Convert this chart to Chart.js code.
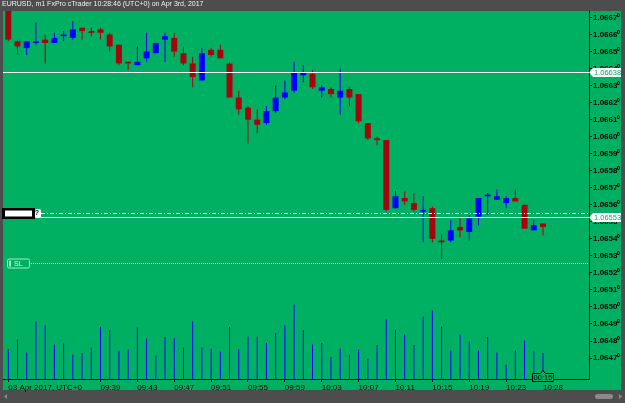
<!DOCTYPE html>
<html lang="en">
<head>
    <meta charset="UTF-8">
    <title>EURUSD, m1</title>
    <script src="https://cdn.jsdelivr.net/npm/chart.js"></script>
    <style>
        html, body { margin: 0; padding: 0; background: #4d4d4d; }
        #wrap { position: relative; width: 625px; height: 403px; }
        #chart { position: absolute; left: 0; top: 0; }
        #title { position: absolute; left: 2px; top: 0; height: 11px; line-height: 11px;
                 font: 7px 'Liberation Sans', Arial, sans-serif; color: #f0f0f0; white-space: nowrap; }
    </style>
</head>
<body>
<div id="wrap">
    <canvas id="chart" width="625" height="403"></canvas>
    <div id="title">EURUSD, m1 FxPro cTrader 10:28:46 (UTC+0) on Apr 3rd, 2017</div>
</div>
<script>
    // one minute candles, 09:29 .. 10:28
    const opens = [1.06677, 1.06656, 1.06652, 1.06655, 1.06657, 1.06655, 1.06659, 1.06658, 1.06664, 1.06662,
                   1.06663, 1.06660, 1.06654, 1.06644, 1.06642, 1.06646, 1.06649, 1.06657, 1.06658, 1.06649,
                   1.06643, 1.06633, 1.06651, 1.06651, 1.06643, 1.06623, 1.06617, 1.06610, 1.06608, 1.06615,
                   1.06623, 1.06627, 1.06636, 1.06637, 1.06627, 1.06628, 1.06623, 1.06628, 1.06625, 1.06608,
                   1.06599, 1.06598, 1.06558, 1.06564, 1.06561, 1.06556, 1.06558, 1.06539, 1.06539, 1.06547,
                   1.06544, 1.06553, 1.06565, 1.06563, 1.06561, 1.06564, 1.06560, 1.06545, 1.06549];
    const highs = [1.06680, 1.06657, 1.06656, 1.06667, 1.06660, 1.06661, 1.06662, 1.06668, 1.06664, 1.06664,
                   1.06664, 1.06661, 1.06654, 1.06644, 1.06653, 1.06661, 1.06655, 1.06661, 1.06661, 1.06653,
                   1.06647, 1.06652, 1.06652, 1.06654, 1.06644, 1.06627, 1.06618, 1.06616, 1.06618, 1.06630,
                   1.06633, 1.06644, 1.06642, 1.06639, 1.06630, 1.06629, 1.06640, 1.06629, 1.06625, 1.06608,
                   1.06600, 1.06598, 1.06568, 1.06568, 1.06567, 1.06565, 1.06559, 1.06543, 1.06551, 1.06553,
                   1.06554, 1.06564, 1.06567, 1.06569, 1.06565, 1.06569, 1.06560, 1.06551, 1.06549];
    const lows = [1.06656, 1.06648, 1.06648, 1.06654, 1.06643, 1.06655, 1.06656, 1.06657, 1.06657, 1.06659,
                  1.06657, 1.06650, 1.06642, 1.06639, 1.06642, 1.06644, 1.06649, 1.06644, 1.06647, 1.06642,
                  1.06629, 1.06633, 1.06647, 1.06646, 1.06623, 1.06613, 1.06596, 1.06602, 1.06607, 1.06614,
                  1.06622, 1.06626, 1.06632, 1.06628, 1.06623, 1.06623, 1.06613, 1.06618, 1.06608, 1.06598,
                  1.06595, 1.06556, 1.06558, 1.06560, 1.06556, 1.06538, 1.06538, 1.06528, 1.06538, 1.06541,
                  1.06539, 1.06548, 1.06554, 1.06563, 1.06558, 1.06562, 1.06546, 1.06545, 1.06542];
    const closes = [1.06657, 1.06653, 1.06656, 1.06656, 1.06655, 1.06658, 1.06660, 1.06663, 1.06662, 1.06661,
                    1.06661, 1.06653, 1.06643, 1.06643, 1.06644, 1.06650, 1.06655, 1.06659, 1.06650, 1.06643,
                    1.06635, 1.06649, 1.06648, 1.06646, 1.06623, 1.06616, 1.06610, 1.06607, 1.06615, 1.06623,
                    1.06626, 1.06638, 1.06638, 1.06629, 1.06629, 1.06625, 1.06627, 1.06623, 1.06609, 1.06599,
                    1.06598, 1.06557, 1.06565, 1.06562, 1.06557, 1.06557, 1.06540, 1.06538, 1.06545, 1.06545,
                    1.06552, 1.06564, 1.06566, 1.06565, 1.06564, 1.06562, 1.06546, 1.06548, 1.06547];
    const volumes = [60, 79, 53, 115, 107, 69, 71, 49, 52, 63,
                     104, 98, 57, 59, 103, 81, 47, 84, 82, 63,
                     115, 63, 61, 55, 104, 59, 85, 85, 72, 92,
                     107, 149, 98, 69, 72, 44, 61, 49, 59, 41,
                     68, 119, 99, 89, 68, 125, 137, 105, 57, 89,
                     75, 57, 84, 53, 29, 57, 77, 55, 52];

    const timeTicks = [0, 10, 14, 18, 22, 26, 30, 34, 38, 42, 46, 50, 54, 58];
    const timeTickLabels = ['03 Apr 2017, UTC+0', '09:39', '09:43', '09:47', '09:51', '09:55', '09:59',
                            '10:03', '10:07', '10:11', '10:15', '10:19', '10:23', '10:28'];
    const priceTicks = [1.0647, 1.0648, 1.0649, 1.0650, 1.0651, 1.0652, 1.0653, 1.0654, 1.0655, 1.0656, 1.0657,
                        1.0658, 1.0659, 1.0660, 1.0661, 1.0662, 1.0663, 1.0664, 1.0665, 1.0666, 1.0667];

    const markerPrice = 1.06638;
    const bidPrice = 1.06553;
    const entryPrice = 1.06555;
    const stopPrice = 1.06526;
    const countdown = '00:15';

    const GREEN = '#00b062';
    const RED = '#a6050e';
    const BLUE = '#0000ff';
    const INK = '#000000';

    const candleColor = i => closes[i] >= opens[i] ? BLUE : RED;
    const superDigits = ['⁰', '¹', '²', '³', '⁴', '⁵', '⁶', '⁷', '⁸', '⁹'];
    function fmtPrice(v) {
        const s = v.toFixed(5);
        return s.slice(0, -1) + superDigits[+s.slice(-1)];
    }

    const decor = {
        id: 'decor',
        beforeDraw(chart) {
            const c = chart.ctx;
            c.save();
            c.fillStyle = '#4d4d4d';
            c.fillRect(0, 0, chart.width, chart.height);
            c.fillStyle = GREEN;
            c.fillRect(3, 11, 618, 379);
            // scrollbar bits
            c.fillStyle = '#8a8a8a';
            c.beginPath();
            c.roundRect(595, 394, 18, 5, 2.5);
            c.fill();
            c.beginPath();
            c.moveTo(619, 394); c.lineTo(622, 396.5); c.lineTo(619, 399); c.fill();
            c.beginPath();
            c.moveTo(7, 394); c.lineTo(4, 396.5); c.lineTo(7, 399); c.fill();
            c.restore();
        },
        afterDatasetsDraw(chart) {
            const c = chart.ctx;
            const y = chart.scales.y;
            const {left, right} = chart.chartArea;
            c.save();
            c.strokeStyle = '#ffffff';
            c.lineWidth = 1;

            let py = Math.round(y.getPixelForValue(markerPrice)) + 0.5;
            c.beginPath(); c.moveTo(left, py); c.lineTo(right, py); c.stroke();

            py = Math.round(y.getPixelForValue(bidPrice)) + 0.5;
            c.beginPath(); c.moveTo(41, py); c.lineTo(right, py); c.stroke();

            py = Math.round(y.getPixelForValue(entryPrice)) + 0.5;
            c.setLineDash([4, 2, 1, 2]);
            c.beginPath(); c.moveTo(41, py); c.lineTo(right, py); c.stroke();

            // position marker on the left
            c.setLineDash([]);
            c.fillStyle = '#000000';
            c.fillRect(2, py - 5.5, 33, 11);
            c.fillStyle = '#ffffff';
            c.fillRect(5, py - 3, 27, 6);
            c.beginPath();
            c.roundRect(35, py - 4.5, 6, 9, 1.5);
            c.fill();
            c.fillStyle = '#000000';
            c.font = 'bold 7px "Liberation Sans", sans-serif';
            c.textAlign = 'center';
            c.textBaseline = 'middle';
            c.fillText('?', 37, py);

            // stop loss
            py = Math.round(y.getPixelForValue(stopPrice)) + 0.5;
            c.strokeStyle = 'rgba(230,255,240,0.85)';
            c.setLineDash([1, 1]);
            c.beginPath(); c.moveTo(31, py); c.lineTo(right, py); c.stroke();
            c.setLineDash([]);
            c.strokeStyle = '#a8e8c4';
            c.beginPath();
            c.roundRect(7.5, py - 4.5, 22, 9, 1.5);
            c.stroke();
            c.fillStyle = '#a8e8c4';
            c.fillRect(9, py - 3, 2, 6);
            c.font = '7px "Liberation Sans", sans-serif';
            c.textAlign = 'left';
            c.fillStyle = '#d8f5e4';
            c.fillText('SL', 14, py + 0.5);
            c.restore();
        },
        afterDraw(chart) {
            const c = chart.ctx;
            const y = chart.scales.y;
            const x = chart.scales.x;
            const {right} = chart.chartArea;
            c.save();
            [markerPrice, bidPrice].forEach(p => {
                const py = Math.round(y.getPixelForValue(p)) + 0.5;
                c.fillStyle = '#ffffff';
                c.beginPath();
                c.moveTo(right, py);
                c.lineTo(right + 4, py - 4.5);
                c.lineTo(621, py - 4.5);
                c.lineTo(621, py + 4.5);
                c.lineTo(right + 4, py + 4.5);
                c.closePath();
                c.fill();
                c.fillStyle = GREEN;
                c.font = '7.5px "Liberation Sans", sans-serif';
                c.textAlign = 'left';
                c.textBaseline = 'middle';
                c.fillText(p.toFixed(5), right + 5, py + 0.5);
            });

            // countdown box of the running candle
            const cx = x.getPixelForValue(opens.length - 1);
            const top = 373.5, bot = 381.5;
            c.fillStyle = GREEN;
            c.strokeStyle = '#000000';
            c.lineWidth = 1;
            c.beginPath();
            c.moveTo(cx - 10.5, top);
            c.lineTo(cx - 2.5, top);
            c.lineTo(cx, top - 3);
            c.lineTo(cx + 2.5, top);
            c.lineTo(cx + 10.5, top);
            c.lineTo(cx + 10.5, bot);
            c.lineTo(cx - 10.5, bot);
            c.closePath();
            c.fill();
            c.stroke();
            c.fillStyle = '#000000';
            c.font = '7.5px "Liberation Sans", sans-serif';
            c.textAlign = 'center';
            c.textBaseline = 'middle';
            c.fillText(countdown, cx, (top + bot) / 2 + 0.5);
            c.restore();
        }
    };

    const idx = opens.map((_, i) => i);
    const tickFont = { family: '"Liberation Sans", Arial, sans-serif', size: 8, weight: 'bold' };

    new Chart(document.getElementById('chart'), {
        type: 'bar',
        data: {
            datasets: [
                {
                    data: idx.map(i => ({ x: i, y: volumes[i] })),
                    yAxisID: 'vol',
                    backgroundColor: BLUE,
                    grouped: false,
                    maxBarThickness: 1,
                    borderWidth: 0,
                    order: 3
                },
                {
                    data: idx.map(i => ({ x: i, y: [lows[i], highs[i]] })),
                    yAxisID: 'y',
                    backgroundColor: idx.map(candleColor),
                    grouped: false,
                    maxBarThickness: 1,
                    borderWidth: 0,
                    order: 2
                },
                {
                    data: idx.map(i => ({ x: i, y: [opens[i], closes[i]] })),
                    yAxisID: 'y',
                    backgroundColor: idx.map(candleColor),
                    grouped: false,
                    maxBarThickness: 6,
                    minBarLength: 1,
                    borderWidth: 0,
                    order: 1
                }
            ]
        },
        options: {
            responsive: false,
            animation: false,
            devicePixelRatio: 1,
            layout: { padding: { top: 11, left: 3, right: 0, bottom: 0 } },
            plugins: { legend: { display: false }, tooltip: { enabled: false } },
            scales: {
                x: {
                    type: 'linear',
                    min: -0.575,
                    max: 62.99,
                    offset: false,
                    afterBuildTicks: s => { s.ticks = timeTicks.map(v => ({ value: v })); },
                    afterFit: s => { s.height = 24; },
                    ticks: {
                        callback: (v, i) => timeTickLabels[i],
                        align: 'start',
                        autoSkip: false,
                        maxRotation: 0,
                        color: INK,
                        font: { family: '"Liberation Sans", Arial, sans-serif', size: 8 },
                        padding: 1
                    },
                    grid: { drawOnChartArea: false, offset: false, tickLength: 3, color: INK },
                    border: { color: INK }
                },
                y: {
                    position: 'right',
                    min: 1.064577,
                    max: 1.066738,
                    beginAtZero: false,
                    afterBuildTicks: s => { s.ticks = priceTicks.map(v => ({ value: v })); },
                    afterFit: s => { s.width = 36; },
                    ticks: {
                        callback: v => fmtPrice(v),
                        autoSkip: false,
                        color: INK,
                        font: tickFont,
                        padding: 1
                    },
                    grid: { drawOnChartArea: false, tickLength: 3, color: INK },
                    border: { color: INK }
                },
                vol: {
                    display: false,
                    min: 0,
                    max: 736
                }
            }
        },
        plugins: [decor]
    });
</script>
</body>
</html>
